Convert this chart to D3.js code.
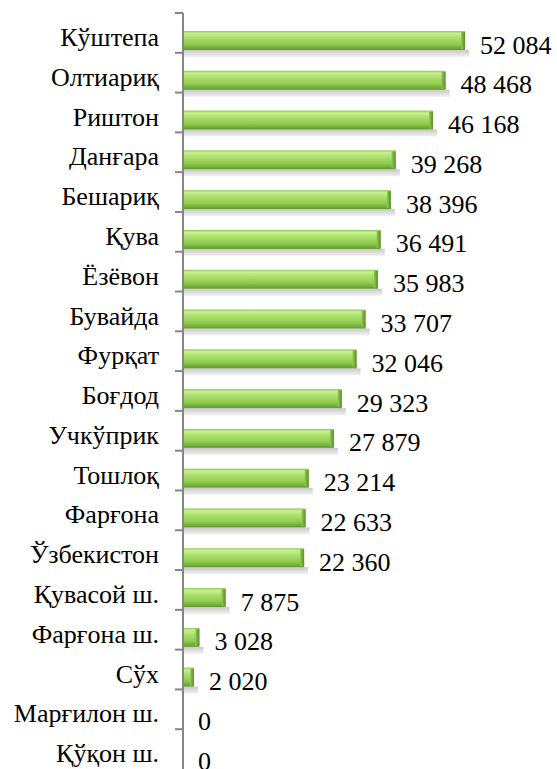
<!DOCTYPE html>
<html>
<head>
<meta charset="utf-8">
<script src="https://cdn.jsdelivr.net/npm/d3@7"></script>
<style>
  body { margin: 0; background: #fff; }
  svg { display: block; }
</style>
</head>
<body>
<div id="chart-area"></div>
<script>
const WIDTH = 557;
const HEIGHT = 769;
const FONT = "'Liberation Serif', 'Times New Roman', serif";

const districts = [
    "Кўштепа", "Олтиариқ", "Риштон", "Данғара", "Бешариқ", "Қува", "Ёзёвон",
    "Бувайда", "Фурқат", "Боғдод", "Учкўприк", "Тошлоқ", "Фарғона", "Ўзбекистон",
    "Қувасой ш.", "Фарғона ш.", "Сўх", "Марғилон ш.", "Қўқон ш."
];
const values = [
    52084, 48468, 46168, 39268, 38396, 36491, 35983,
    33707, 32046, 29323, 27879, 23214, 22633, 22360,
    7875, 3028, 2020, 0, 0
];
const valueLabels = [
    "52 084", "48 468", "46 168", "39 268", "38 396", "36 491", "35 983",
    "33 707", "32 046", "29 323", "27 879", "23 214", "22 633", "22 360",
    "7 875", "3 028", "2 020", "0", "0"
];

const margin = { top: 13, right: 0, bottom: 0, left: 183 };
const height = HEIGHT - margin.top - margin.bottom;

const svg = d3.select("#chart-area").append("svg")
    .attr("width", WIDTH)
    .attr("height", HEIGHT)
    .append("g")
    .attr("transform", "translate(" + margin.left + "," + margin.top + ")");

const defs = svg.append("defs");

const barGrad = defs.append("linearGradient")
    .attr("id", "barGrad")
    .attr("x1", "0%").attr("y1", "0%")
    .attr("x2", "0%").attr("y2", "100%");
[["0%", "#8cc84e"], ["12%", "#c8f090"], ["35%", "#aee070"], ["70%", "#8fcb4d"], ["100%", "#5f9a2c"]]
    .forEach(s => barGrad.append("stop").attr("offset", s[0]).attr("stop-color", s[1]));

const endGrad = defs.append("linearGradient")
    .attr("id", "endGrad")
    .attr("x1", "0%").attr("y1", "0%")
    .attr("x2", "100%").attr("y2", "0%");
[["0%", "#8ec850"], ["100%", "#5a8f2a"]]
    .forEach(s => endGrad.append("stop").attr("offset", s[0]).attr("stop-color", s[1]));

const shadowGrad = defs.append("linearGradient")
    .attr("id", "shadowGrad")
    .attr("x1", "0%").attr("y1", "0%")
    .attr("x2", "0%").attr("y2", "100%");
[["0%", "#c8c8c8"], ["100%", "#f2f2f2"]]
    .forEach(s => shadowGrad.append("stop").attr("offset", s[0]).attr("stop-color", s[1]));

const y = d3.scaleBand()
    .domain(districts)
    .range([0, height]);

const x = d3.scaleLinear()
    .domain([0, 60000])
    .range([0, 325]);

const data = districts.map((d, i) => ({ name: d, value: values[i], label: valueLabels[i] }));
const bw = y.bandwidth();
const barTop = 18;
const barH = 19;

// shadows under the bars
svg.selectAll(".shadow")
    .data(data.filter(d => d.value > 0))
    .enter()
    .append("rect")
    .attr("class", "shadow")
    .attr("x", 0)
    .attr("y", d => y(d.name) + barTop + barH)
    .attr("width", d => x(d.value) + 4)
    .attr("height", 7)
    .attr("fill", "url(#shadowGrad)");

svg.selectAll(".bar")
    .data(data.filter(d => d.value > 0))
    .enter()
    .append("rect")
    .attr("class", "bar")
    .attr("x", 0)
    .attr("y", d => y(d.name) + barTop)
    .attr("width", d => x(d.value))
    .attr("height", barH)
    .attr("fill", "url(#barGrad)");

svg.selectAll(".barEnd")
    .data(data.filter(d => d.value > 0))
    .enter()
    .append("rect")
    .attr("class", "barEnd")
    .attr("x", d => x(d.value) - Math.min(4, x(d.value) / 3))
    .attr("y", d => y(d.name) + barTop + 1)
    .attr("width", d => Math.min(4, x(d.value) / 3))
    .attr("height", barH - 2)
    .attr("fill", "url(#endGrad)");

// category axis
svg.append("line")
    .attr("x1", 0).attr("x2", 0)
    .attr("y1", 0).attr("y2", height)
    .attr("stroke", "#868686")
    .attr("stroke-width", 2);
svg.selectAll(".tickmark")
    .data(districts)
    .enter()
    .append("line")
    .attr("class", "tickmark")
    .attr("x1", -8).attr("x2", 0)
    .attr("y1", d => y(d))
    .attr("y2", d => y(d))
    .attr("stroke", "#868686")
    .attr("stroke-width", 2);

svg.selectAll(".cat")
    .data(data)
    .enter()
    .append("text")
    .attr("class", "cat")
    .attr("x", -24)
    .attr("y", d => y(d.name) + 33)
    .attr("text-anchor", "end")
    .style("font-family", FONT)
    .style("font-size", "26px")
    .attr("fill", "#000")
    .text(d => d.name);

svg.selectAll(".val")
    .data(data)
    .enter()
    .append("text")
    .attr("class", "val")
    .attr("x", d => x(d.value) + 15)
    .attr("y", d => y(d.name) + 40.5)
    .style("font-family", FONT)
    .style("font-size", "26px")
    .attr("fill", "#000")
    .text(d => d.label);
</script>
</body>
</html>
